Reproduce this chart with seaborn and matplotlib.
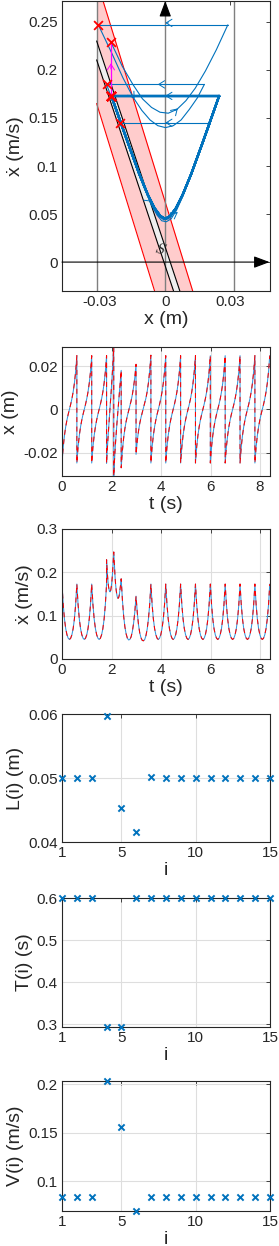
import numpy as np
import pandas as pd
import matplotlib
matplotlib.use("Agg")
import matplotlib.pyplot as plt
from matplotlib.ticker import FuncFormatter
import seaborn as sns

# ---------------- data ----------------
# step boundaries in time (s)
step_bounds = [0.0, 0.6, 1.2, 1.8, 2.09, 2.39, 2.99, 3.59, 4.19, 4.79,
               5.39, 5.99, 6.59, 7.19, 7.79, 8.39]
N_PER_STEP = 13

# x (m), 13 samples per step, one row per step
x_pts = [
    -0.0248, -0.0173, -0.0120, -0.0080, -0.0049, -0.0023, 0.0000, 0.0023, 0.0049, 0.0080, 0.0120, 0.0173, 0.0248,
    -0.0248, -0.0173, -0.0120, -0.0080, -0.0049, -0.0023, 0.0000, 0.0023, 0.0049, 0.0080, 0.0120, 0.0173, 0.0248,
    -0.0248, -0.0173, -0.0120, -0.0080, -0.0049, -0.0023, 0.0000, 0.0023, 0.0049, 0.0080, 0.0120, 0.0173, 0.0248,
    -0.0250, -0.0198, -0.0149, -0.0105, -0.0063, -0.0024, 0.0014, 0.0054, 0.0095, 0.0138, 0.0185, 0.0235, 0.0288,
    -0.0308, -0.0245, -0.0195, -0.0149, -0.0108, -0.0070, -0.0034, 0.0001, 0.0037, 0.0073, 0.0111, 0.0148, 0.0180,
    -0.0270, -0.0190, -0.0132, -0.0089, -0.0056, -0.0030, -0.0007, 0.0015, 0.0039, 0.0067, 0.0103, 0.0147, 0.0208,
    -0.0208, -0.0146, -0.0100, -0.0065, -0.0038, -0.0016, 0.0005, 0.0027, 0.0052, 0.0082, 0.0122, 0.0176, 0.0250,
    -0.0248, -0.0173, -0.0120, -0.0080, -0.0049, -0.0023, 0.0000, 0.0023, 0.0049, 0.0080, 0.0120, 0.0173, 0.0248,
    -0.0248, -0.0173, -0.0120, -0.0080, -0.0049, -0.0023, 0.0000, 0.0023, 0.0049, 0.0080, 0.0120, 0.0173, 0.0248,
    -0.0248, -0.0173, -0.0120, -0.0080, -0.0049, -0.0023, 0.0000, 0.0023, 0.0049, 0.0080, 0.0120, 0.0173, 0.0248,
    -0.0248, -0.0173, -0.0120, -0.0080, -0.0049, -0.0023, 0.0000, 0.0023, 0.0049, 0.0080, 0.0120, 0.0173, 0.0248,
    -0.0248, -0.0173, -0.0120, -0.0080, -0.0049, -0.0023, 0.0000, 0.0023, 0.0049, 0.0080, 0.0120, 0.0173, 0.0248,
    -0.0248, -0.0173, -0.0120, -0.0080, -0.0049, -0.0023, 0.0000, 0.0023, 0.0049, 0.0080, 0.0120, 0.0173, 0.0248,
    -0.0248, -0.0173, -0.0120, -0.0080, -0.0049, -0.0023, 0.0000, 0.0023, 0.0049, 0.0080, 0.0120, 0.0173, 0.0248,
    -0.0248, -0.0173, -0.0120, -0.0080, -0.0049, -0.0023, 0.0000, 0.0023, 0.0049, 0.0080, 0.0120, 0.0173, 0.0248,
]
# x-dot (m/s), 13 samples per step, one row per step
v_pts = [
    0.173, 0.125, 0.092, 0.070, 0.056, 0.048, 0.045, 0.048, 0.056, 0.070, 0.092, 0.125, 0.173,
    0.173, 0.125, 0.092, 0.070, 0.056, 0.048, 0.045, 0.048, 0.056, 0.070, 0.092, 0.125, 0.173,
    0.173, 0.125, 0.092, 0.070, 0.056, 0.048, 0.045, 0.048, 0.056, 0.070, 0.092, 0.125, 0.173,
    0.229, 0.204, 0.185, 0.170, 0.161, 0.156, 0.155, 0.159, 0.168, 0.181, 0.199, 0.221, 0.247,
    0.247, 0.217, 0.192, 0.172, 0.158, 0.148, 0.142, 0.140, 0.142, 0.148, 0.159, 0.171, 0.185,
    0.185, 0.136, 0.099, 0.074, 0.058, 0.048, 0.044, 0.045, 0.051, 0.063, 0.082, 0.108, 0.145,
    0.145, 0.107, 0.079, 0.060, 0.049, 0.043, 0.042, 0.045, 0.054, 0.069, 0.092, 0.125, 0.173,
    0.173, 0.125, 0.092, 0.070, 0.056, 0.048, 0.045, 0.048, 0.056, 0.070, 0.092, 0.125, 0.173,
    0.173, 0.125, 0.092, 0.070, 0.056, 0.048, 0.045, 0.048, 0.056, 0.070, 0.092, 0.125, 0.173,
    0.173, 0.125, 0.092, 0.070, 0.056, 0.048, 0.045, 0.048, 0.056, 0.070, 0.092, 0.125, 0.173,
    0.173, 0.125, 0.092, 0.070, 0.056, 0.048, 0.045, 0.048, 0.056, 0.070, 0.092, 0.125, 0.173,
    0.173, 0.125, 0.092, 0.070, 0.056, 0.048, 0.045, 0.048, 0.056, 0.070, 0.092, 0.125, 0.173,
    0.173, 0.125, 0.092, 0.070, 0.056, 0.048, 0.045, 0.048, 0.056, 0.070, 0.092, 0.125, 0.173,
    0.173, 0.125, 0.092, 0.070, 0.056, 0.048, 0.045, 0.048, 0.056, 0.070, 0.092, 0.125, 0.173,
    0.173, 0.125, 0.092, 0.070, 0.056, 0.048, 0.045, 0.048, 0.056, 0.070, 0.092, 0.125, 0.173,
]
transient_steps = [4, 5, 6, 7]

# per-step quantities
step_idx = list(range(1, 16))
L_vals = [0.050, 0.050, 0.050, 0.0597, 0.0453, 0.0416, 0.0502, 0.050, 0.050, 0.050,
          0.050, 0.050, 0.050, 0.050, 0.050]
T_vals = [0.6, 0.6, 0.6, 0.2935, 0.2935, 0.6, 0.6, 0.6, 0.6, 0.6, 0.6, 0.6, 0.6, 0.6, 0.6]
V_vals = [0.0833, 0.0833, 0.0833, 0.2036, 0.1556, 0.0693, 0.0836, 0.0833, 0.0833, 0.0833,
          0.0833, 0.0833, 0.0833, 0.0833, 0.0833]

# phase-portrait guides
guide_x = [-0.0316, 0.0, 0.0316]
band_slope = -7.32
band_icpt = [-0.066, 0.0624]       # x-dot at x=0 of lower / upper red edge
s_slope = -6.8
s_icpt = [-0.0041, 0.0156]         # x-dot at x=0 of the two black lines

# ---------------- styling ----------------
sns.set_theme(style="white")
plt.rcParams["font.family"] = ["Liberation Sans", "DejaVu Sans"]
plt.rcParams["mathtext.fontset"] = "cm"
plt.rcParams["axes.edgecolor"] = "#262626"
plt.rcParams["axes.linewidth"] = 0.8
plt.rcParams["lines.scale_dashes"] = False

BLUE = "#0072BD"
TS_BLUE = "#3597DC"
TICK_FS = 11
LAB_FS = 14
GRID_C = "#DEDEDE"
DASH = (0, (3.6, 3.2))
fmt = FuncFormatter(lambda v, p: "%g" % round(v, 6))

fig = plt.figure(figsize=(2.79, 12.46), dpi=100)
LFT, WID = 62 / 279, 208 / 279


def rect(top, bot):
    return [LFT, 1 - bot / 1246, WID, (bot - top) / 1246]


def style(ax, grid=True):
    ax.tick_params(direction="in", top=True, right=True, length=3, width=0.6,
                   labelsize=TICK_FS, colors="#262626", pad=3)
    for s in ax.spines.values():
        s.set_visible(True)
        s.set_color("#262626")
        s.set_linewidth(0.8)
    if grid:
        ax.grid(True, color=GRID_C, lw=0.8)
    ax.set_axisbelow(True)
    ax.xaxis.set_major_formatter(fmt)
    ax.yaxis.set_major_formatter(fmt)


# time grid from step boundaries
t_all = np.concatenate([np.linspace(step_bounds[i], step_bounds[i + 1], N_PER_STEP)
                        for i in range(len(step_bounds) - 1)])
step_col = np.repeat(step_idx, N_PER_STEP)
df = pd.DataFrame({"t": t_all, "x": x_pts, "v": v_pts, "step": step_col})

# ---------------- panel 1: phase portrait ----------------
ax1 = fig.add_axes(rect(1, 291))
style(ax1, grid=False)
XL = (-0.0475, 0.0482)
YL = (-0.0301, 0.2718)
ax1.set_xlim(XL)
ax1.set_ylim(YL)

yy = np.linspace(YL[0], YL[1], 400)
xlo = (yy - band_icpt[0]) / band_slope
xhi = (yy - band_icpt[1]) / band_slope
ax1.fill_betweenx(yy, np.maximum(xlo, guide_x[0]), xhi, where=xhi > guide_x[0],
                  color="#FFCCCC", lw=0, zorder=1)
m = xlo >= guide_x[0]
sns.lineplot(x=xlo[m], y=yy[m], sort=False, estimator=None, color="red", lw=0.8, ax=ax1, zorder=2)
m = xhi >= guide_x[0]
sns.lineplot(x=xhi[m], y=yy[m], sort=False, estimator=None, color="red", lw=0.8, ax=ax1, zorder=2)

slo = (yy - s_icpt[0]) / s_slope
shi = (yy - s_icpt[1]) / s_slope
ax1.fill_betweenx(yy, np.maximum(slo, guide_x[0]), shi, where=shi > guide_x[0],
                  color="#EFEFEF", lw=0, zorder=2)
for xs in (slo, shi):
    m = xs >= guide_x[0]
    sns.lineplot(x=xs[m], y=yy[m], sort=False, estimator=None, color="black", lw=0.8,
                 ax=ax1, zorder=2.5)

for gx in guide_x:
    ax1.axvline(gx, color="#7F7F7F", lw=1.0, zorder=2.2)

# trajectory: per-step curves
for s in step_idx:
    d = df[df.step == s]
    lw = 0.8 if s in transient_steps else 1.5
    sns.lineplot(data=d, x="x", y="v", sort=False, estimator=None, color=BLUE, lw=lw,
                 ax=ax1, zorder=3)
# resets (horizontal) and push (vertical, magenta)
for s in step_idx[:-1]:
    a = df[df.step == s].iloc[-1]
    b = df[df.step == s + 1].iloc[0]
    lw = 0.8 if (s in transient_steps or s + 1 in transient_steps) else 1.5
    sns.lineplot(x=[a.x, b.x], y=[a.v, a.v], sort=False, estimator=None, color=BLUE,
                 lw=lw, ax=ax1, zorder=3)
    if abs(b.v - a.v) > 1e-6:
        sns.lineplot(x=[b.x, b.x], y=[a.v, b.v], sort=False, estimator=None,
                     color="magenta", lw=0.9, ax=ax1, zorder=3.2)
        ax1.annotate("", xy=(b.x, (a.v + b.v) / 2 + 0.006), xytext=(b.x, (a.v + b.v) / 2),
                     arrowprops=dict(arrowstyle="->,head_length=0.35,head_width=0.22",
                                     color="magenta", lw=0.7, shrinkA=0, shrinkB=0), zorder=3.3)

starts = df.groupby("step").first()
sns.scatterplot(x=starts.x.values, y=starts.v.values, marker="x", color="red", s=40,
                linewidth=1.3, ax=ax1, zorder=5, clip_on=False)

# direction chevrons on trajectory
chev = [(0.0, 0.249, -1, 0), (-0.0034, 0.185, -1, 0), (0.0, 0.173, -1, 0), (0.0, 0.145, -1, 0),
        (0.0058, 0.160, 0.0010, 0.0022), (-0.0064, 0.063, 0.0010, -0.0018),
        (0.0058, 0.052, 0.0010, 0.0015), (-0.0141, 0.170, 0.0010, -0.0034)]
for cx, cy, dx, dy in chev:
    if dy == 0:
        dx, dy = 0.0015 * dx, 0.0
    ax1.annotate("", xy=(cx, cy), xytext=(cx - dx, cy - dy),
                 arrowprops=dict(arrowstyle="->,head_length=0.35,head_width=0.22",
                                 color=BLUE, lw=0.7, shrinkA=0, shrinkB=0), zorder=3.5)

# axes arrows
ax1.annotate("", xy=(XL[1] - 0.0002, 0), xytext=(XL[0], 0),
             arrowprops=dict(arrowstyle="-|>,head_length=0.8,head_width=0.3", color="black",
                             lw=0.8, shrinkA=0, shrinkB=0), annotation_clip=False, zorder=4)
ax1.annotate("", xy=(0, YL[1]), xytext=(0, YL[1] - 0.012),
             arrowprops=dict(arrowstyle="-|>,head_length=0.8,head_width=0.3", color="black",
                             lw=0.8, shrinkA=0, shrinkB=0), annotation_clip=False, zorder=4)
ax1.text(-0.0022, 0.013, r"$S$", fontsize=11, ha="center", va="center", rotation=-15, zorder=4)

ax1.set_xticks([-0.03, 0, 0.03])
ax1.set_yticks([0, 0.05, 0.1, 0.15, 0.2, 0.25])
ax1.set_xlabel("x (m)", fontsize=LAB_FS, labelpad=1)
ax1.set_ylabel("ẋ (m/s)", fontsize=LAB_FS, labelpad=3)

# ---------------- panel 2: x(t) ----------------
ax2 = fig.add_axes(rect(347, 476))
style(ax2)
sns.lineplot(data=df, x="t", y="x", sort=False, estimator=None, color=TS_BLUE, lw=0.75, ax=ax2)
sns.lineplot(data=df, x="t", y="x", sort=False, estimator=None, color="red", lw=0.75,
             linestyle=DASH, ax=ax2)
ax2.set_xlim(0, 8.4)
ax2.set_ylim(min(x_pts), max(x_pts))
ax2.set_xticks([0, 2, 4, 6, 8])
ax2.set_yticks([-0.02, 0, 0.02])
ax2.set_xlabel("t (s)", fontsize=LAB_FS, labelpad=1)
ax2.set_ylabel("x (m)", fontsize=LAB_FS, labelpad=3)

# ---------------- panel 3: xdot(t) ----------------
ax3 = fig.add_axes(rect(529, 659))
style(ax3)
sns.lineplot(data=df, x="t", y="v", sort=False, estimator=None, color=TS_BLUE, lw=0.75, ax=ax3)
sns.lineplot(data=df, x="t", y="v", sort=False, estimator=None, color="red", lw=0.75,
             linestyle=DASH, ax=ax3)
ax3.set_xlim(0, 8.4)
ax3.set_ylim(0, 0.3)
ax3.set_xticks([0, 2, 4, 6, 8])
ax3.set_yticks([0, 0.1, 0.2, 0.3])
ax3.set_xlabel("t (s)", fontsize=LAB_FS, labelpad=1)
ax3.set_ylabel("ẋ (m/s)", fontsize=LAB_FS, labelpad=3)

# ---------------- panels 4-6: per-step values ----------------
specs = [
    (714, 842, L_vals, "L(i) (m)", (0.04, 0.06), [0.04, 0.05, 0.06]),
    (898, 1027, T_vals, "T(i) (s)", (min(T_vals), max(T_vals)), [0.3, 0.4, 0.5, 0.6]),
    (1081, 1211, V_vals, "V(i) (m/s)", (min(V_vals), max(V_vals)), [0.1, 0.15, 0.2]),
]
for top, bot, vals, lab, ylim, yt in specs:
    ax = fig.add_axes(rect(top, bot))
    style(ax)
    sns.scatterplot(x=step_idx, y=vals, marker="x", color=BLUE, s=20, linewidth=1.4,
                    ax=ax, clip_on=False, zorder=4)
    ax.set_xlim(1, 15)
    ax.set_ylim(*ylim)
    ax.set_xticks([1, 5, 10, 15])
    ax.set_yticks(yt)
    ax.set_xlabel("i", fontsize=LAB_FS, labelpad=1)
    ax.set_ylabel(lab, fontsize=LAB_FS, labelpad=3)

fig.savefig("out.png", dpi=100)
